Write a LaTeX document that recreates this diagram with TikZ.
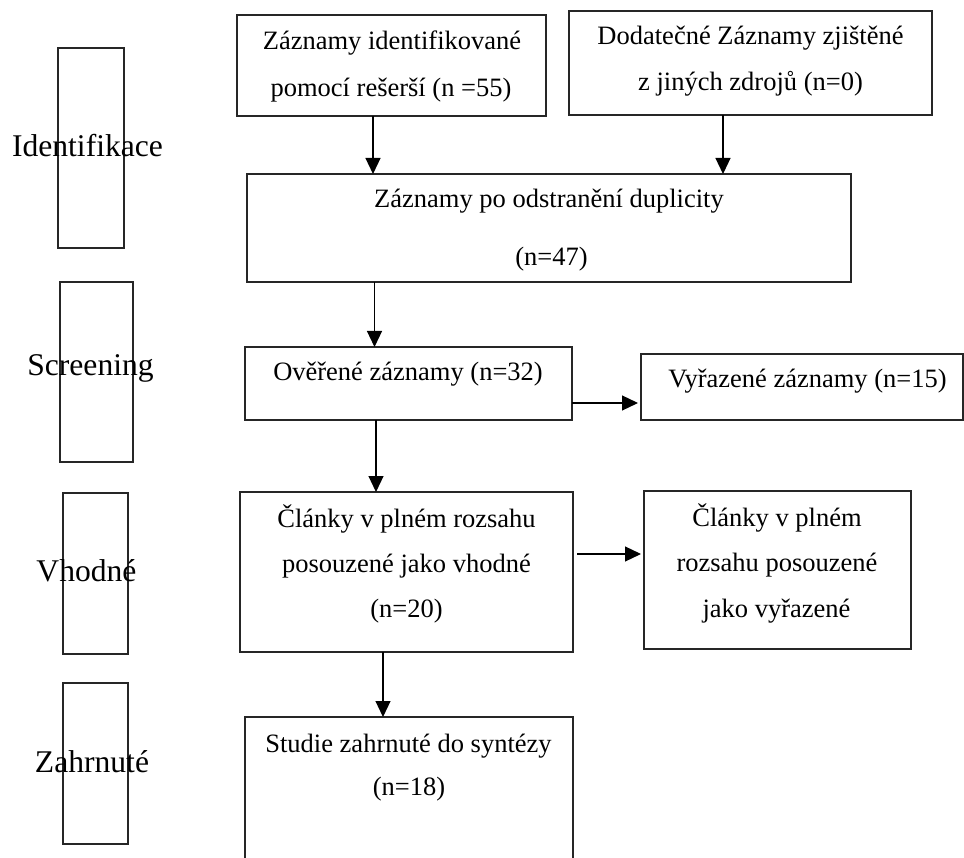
\documentclass[tikz,border=0pt]{standalone}
\usepackage{fontspec}
\setmainfont{Liberation Serif}
\usetikzlibrary{arrows.meta}
\begin{document}
\begin{tikzpicture}[x=1pt,y=-1pt,
  box/.style={draw=black!85, line width=1.2pt, inner sep=0pt, outer sep=0pt},
  btxt/.style={font=\fontsize{26.5}{30}\selectfont, inner sep=0pt, anchor=base},
  stxt/.style={font=\fontsize{31.6}{36}\selectfont, inner sep=0pt, anchor=base},
  arr/.style={draw=black, line width=1.2pt, -{Triangle[length=16pt,width=15pt]}}]
\useasboundingbox (0,0) rectangle (964,858);
\clip (0,0) rectangle (964,858);
% side stage boxes
\node[box, minimum width=66pt, minimum height=200pt] (s1) at (91,148) {};
\node[box, minimum width=73pt, minimum height=180pt] (s2) at (96.5,372) {};
\node[box, minimum width=65pt, minimum height=161pt] (s3) at (95.5,573.5) {};
\node[box, minimum width=65pt, minimum height=161pt] (s4) at (95.5,763.5) {};
\node[stxt] (l1) at (87.5,157) {Identifikace};
\node[stxt] (l2) at (90.5,376) {Screening};
\node[stxt] (l3) at (86.5,581) {Vhodné};
\node[stxt] (l4) at (92,772) {Zahrnuté};
% main boxes
\node[box, minimum width=309pt, minimum height=101pt] (b1) at (391.5,65.5) {};
\node[box, minimum width=363pt, minimum height=104pt] (b2) at (750.5,63) {};
\node[box, minimum width=604pt, minimum height=108pt] (b3) at (549,228) {};
\node[box, minimum width=327pt, minimum height=73pt] (b4) at (408.5,383.5) {};
\node[box, minimum width=322pt, minimum height=66pt] (b5) at (802,387) {};
\node[box, minimum width=333pt, minimum height=160pt] (b6) at (406.5,572) {};
\node[box, minimum width=267pt, minimum height=158pt] (b7) at (777.5,570) {};
\node[box, minimum width=328pt, minimum height=163pt] (b8) at (409,798.5) {};
% texts
\node[btxt] (t1a) at (392,50) {Záznamy identifikované};
\node[btxt] (t1b) at (391,97) {pomocí rešerší (n =55)};
\node[btxt] (t2a) at (750.5,45) {Dodatečné Záznamy zjištěné};
\node[btxt] (t2b) at (750.5,91) {z jiných zdrojů (n=0)};
\node[btxt] (t3a) at (549,208) {Záznamy po odstranění duplicity};
\node[btxt] (t3b) at (551.5,266) {(n=47)};
\node[btxt] (t4) at (408,381) {Ověřené záznamy (n=32)};
\node[btxt] (t5) at (807.5,388) {Vyřazené záznamy (n=15)};
\node[btxt] (t6a) at (406.5,527) {Články v plném rozsahu};
\node[btxt] (t6b) at (406.5,572) {posouzené jako vhodné};
\node[btxt] (t6c) at (406.5,617) {(n=20)};
\node[btxt] (t7a) at (777,526) {Články v plném};
\node[btxt] (t7b) at (777,571) {rozsahu posouzené};
\node[btxt] (t7c) at (776.5,617) {jako vyřazené};
\node[btxt] (t8a) at (408.5,752) {Studie zahrnuté do syntézy};
\node[btxt] (t8b) at (409,795) {(n=18)};
% arrow guide coordinates
\coordinate (ax1) at (373,0);
\coordinate (ax2) at (723,0);
\coordinate (ax3) at (374.5,0);
\coordinate (ax4) at (376,0);
\coordinate (ax5) at (383,0);
\coordinate (ay1) at (0,403);
\coordinate (ay2) at (0,554);
% arrows
\draw[arr] (b1.south -| ax1) -- (b3.north -| ax1);
\draw[arr] (b2.south -| ax2) -- (b3.north -| ax2);
\draw[arr] (b3.south -| ax3) -- (b4.north -| ax3);
\draw[arr] (b4.south -| ax4) -- (b6.north -| ax4);
\draw[arr] (b6.south -| ax5) -- (b8.north -| ax5);
\draw[arr, shorten >=3pt] (b4.east |- ay1) -- (b5.west |- ay1);
\draw[arr, shorten <=4pt, shorten >=3pt] (b6.east |- ay2) -- (b7.west |- ay2);
\end{tikzpicture}
\end{document}
